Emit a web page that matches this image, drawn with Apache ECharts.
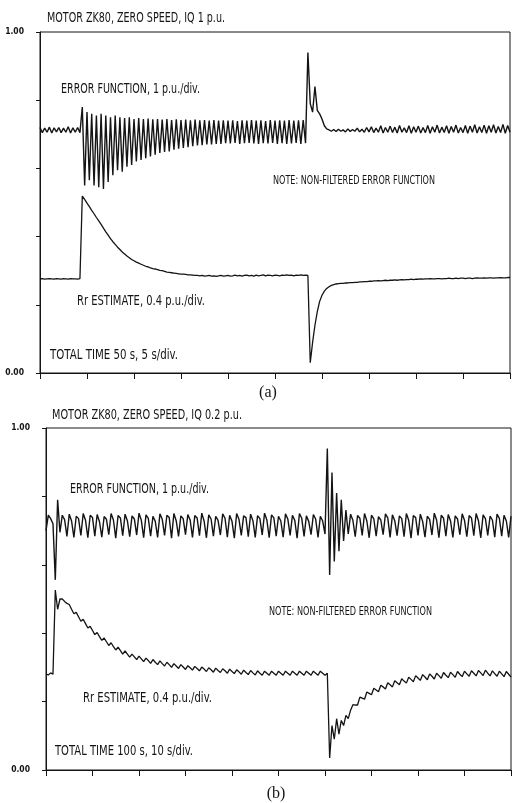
<!DOCTYPE html>
<html>
<head>
<meta charset="utf-8">
<script src="https://cdn.jsdelivr.net/npm/echarts@6/dist/echarts.min.js"></script>
<style>
  html, body { margin: 0; padding: 0; background: #fff; }
  #chart { width: 512px; height: 803px; }
</style>
</head>
<body>
<div id="chart"></div>
<script>
// (a) 50 s record, one sample every 0.25 s
const dtA = 0.25
const errA = [
  .72, .705, .718, .706, .721, .704, .719, .707, .72, .705,
  .718, .706, .722, .704, .719, .706, .72, .705, .78, .55,
  .765, .565, .76, .55, .755, .545, .76, .54, .755, .56,
  .75, .58, .755, .595, .75, .59, .748, .605, .75, .61,
  .745, .62, .748, .625, .745, .63, .746, .635, .744, .64,
  .745, .645, .743, .648, .745, .65, .742, .655, .744, .658,
  .742, .66, .743, .662, .741, .665, .743, .667, .741, .668,
  .742, .67, .74, .67, .742, .672, .74, .672, .741, .674,
  .74, .673, .741, .675, .739, .672, .741, .674, .74, .675,
  .742, .673, .74, .672, .741, .674, .739, .673, .742, .675,
  .74, .672, .741, .674, .74, .672, .742, .673, .74, .675,
  .741, .672, .742, .674, .94, .79, .765, .84, .77, .76,
  .745, .725, .716, .713, .709, .714, .708, .715, .709, .713,
  .707, .716, .708, .714, .709, .718, .707, .715, .706, .72,
  .707, .722, .705, .718, .706, .725, .704, .72, .706, .724,
  .705, .721, .704, .726, .706, .719, .705, .725, .703, .722,
  .706, .724, .704, .72, .705, .726, .703, .722, .706, .727,
  .704, .721, .705, .725, .703, .723, .706, .727, .704, .72,
  .705, .726, .703, .724, .706, .728, .704, .722, .705, .727,
  .703, .725, .706, .728, .704, .723, .705, .729, .703, .726,
  .706
]
const rrA = [
  .276, .277, .275, .276, .277, .276, .275, .277, .276, .275,
  .277, .276, .275, .277, .276, .276, .275, .277, .519, .509,
  .498, .488, .477, .467, .456, .446, .436, .425, .414, .404,
  .394, .385, .377, .369, .362, .355, .349, .343, .338, .333,
  .329, .325, .322, .319, .316, .313, .311, .308, .306, .305,
  .303, .301, .3, .298, .296, .295, .294, .293, .292, .291,
  .29, .29, .289, .288, .288, .287, .286, .286, .285, .286,
  .284, .285, .286, .284, .285, .283, .285, .286, .284, .285,
  .286, .284, .285, .287, .285, .286, .284, .286, .287, .285,
  .286, .284, .287, .285, .286, .288, .285, .287, .286, .285,
  .287, .286, .285, .287, .286, .288, .286, .287, .285, .287,
  .286, .288, .286, .287, .286, .03, .09, .14, .18, .21,
  .228, .24, .248, .253, .257, .259, .261, .262, .263, .263,
  .264, .264, .265, .265, .266, .266, .267, .267, .268, .268,
  .269, .269, .27, .27, .271, .27, .271, .272, .271, .272,
  .272, .273, .272, .273, .274, .273, .274, .274, .275, .274,
  .275, .275, .276, .275, .276, .276, .277, .276, .276, .277,
  .277, .276, .277, .277, .278, .277, .277, .278, .277, .278,
  .278, .277, .278, .278, .277, .278, .279, .278, .278, .279,
  .278, .279, .279, .278, .279, .279, .28, .279, .279, .28,
  .28
]

// (b) 100 s record, one sample every 0.5 s
const dtB = 0.5
const errB = [
  .70, .745, .735, .72, .556, .79, .695, .745, .732, .683,
  .748, .728, .68, .742, .735, .686, .75, .73, .679, .745,
  .738, .684, .747, .726, .681, .741, .733, .688, .75, .731,
  .678, .744, .737, .685, .748, .729, .682, .743, .734, .687,
  .751, .73, .679, .746, .736, .684, .742, .727, .68, .749,
  .733, .686, .745, .738, .678, .75, .729, .683, .743, .735,
  .688, .747, .731, .68, .744, .737, .685, .751, .728, .679,
  .746, .734, .684, .742, .73, .687, .749, .736, .681, .745,
  .727, .678, .75, .733, .686, .743, .738, .682, .748, .729,
  .68, .744, .735, .687, .751, .731, .679, .746, .737, .684,
  .742, .728, .681, .749, .734, .686, .745, .73, .678, .75,
  .736, .683, .743, .727, .688, .747, .733, .68, .742, .728,
  .69, .94, .57, .87, .61, .81, .64, .79, .67, .76,
  .69, .748, .73, .682, .744, .736, .686, .75, .728, .679,
  .745, .734, .684, .741, .731, .688, .749, .737, .68, .746,
  .729, .685, .743, .735, .682, .75, .73, .678, .744, .738,
  .686, .748, .727, .681, .742, .733, .687, .751, .731, .679,
  .745, .736, .684, .747, .728, .68, .743, .734, .688, .749,
  .73, .682, .744, .737, .685, .75, .729, .679, .746, .735,
  .686, .742, .731, .681, .748, .736, .684, .745, .728, .68,
  .742
]
const rrB = [
  .28, .278, .284, .28, .526, .47, .5, .5, .493, .487,
  .484, .47, .457, .461, .448, .435, .441, .428, .415, .42,
  .408, .396, .402, .39, .379, .386, .375, .364, .372, .361,
  .351, .359, .349, .339, .348, .339, .33, .339, .331, .323,
  .333, .325, .317, .327, .32, .312, .323, .315, .308, .319,
  .311, .304, .315, .308, .3, .311, .304, .297, .308, .301,
  .294, .305, .299, .292, .303, .297, .29, .301, .295, .288,
  .299, .293, .286, .298, .291, .285, .296, .29, .283, .295,
  .288, .282, .293, .287, .28, .292, .285, .279, .291, .284,
  .278, .29, .283, .277, .289, .283, .277, .289, .283, .277,
  .289, .283, .277, .289, .283, .277, .289, .283, .277, .289,
  .283, .277, .289, .283, .277, .289, .283, .277, .289, .283,
  .277, .283, .035, .13, .09, .15, .105, .145, .13, .16,
  .15, .175, .191, .19, .19, .213, .21, .207, .228, .224,
  .22, .239, .234, .229, .248, .243, .237, .255, .249, .243,
  .261, .255, .249, .267, .26, .254, .271, .265, .258, .276,
  .269, .262, .279, .272, .264, .281, .274, .266, .283, .276,
  .268, .285, .277, .27, .286, .279, .271, .288, .28, .273,
  .289, .281, .274, .29, .283, .275, .291, .284, .276, .292,
  .283, .275, .29, .282, .274, .289, .281, .273, .288, .28,
  .272
]

const timeA = errA.map((_, i) => String(i * dtA))
const timeB = errB.map((_, i) => String(i * dtB))

const ink = '#141414'
const textFont = '"DejaVu Sans"'

// annotation layout: left x, middle y, target width, font size
const notes = [
  { text: 'MOTOR ZK80, ZERO SPEED, IQ 1 p.u.', x: 47, y: 18, w: 178, size: 13.5 },
  { text: 'ERROR FUNCTION, 1 p.u./div.', x: 61, y: 89, w: 139, size: 13.5 },
  { text: 'NOTE: NON-FILTERED ERROR FUNCTION', x: 273, y: 180.5, w: 162, size: 12 },
  { text: 'Rr ESTIMATE, 0.4 p.u./div.', x: 77, y: 301, w: 128, size: 13.5 },
  { text: 'TOTAL TIME 50 s, 5 s/div.', x: 50, y: 355, w: 128, size: 13.5 },
  { text: 'MOTOR ZK80, ZERO SPEED, IQ 0.2 p.u.', x: 52, y: 415.5, w: 190, size: 13.5 },
  { text: 'ERROR FUNCTION, 1 p.u./div.', x: 70, y: 489, w: 139, size: 13.5 },
  { text: 'NOTE: NON-FILTERED ERROR FUNCTION', x: 269, y: 612, w: 163, size: 12 },
  { text: 'Rr ESTIMATE, 0.4 p.u./div.', x: 83, y: 698.5, w: 129, size: 13.5 },
  { text: 'TOTAL TIME 100 s, 10 s/div.', x: 55, y: 751, w: 138, size: 13.5 }
]

const ctx = document.createElement('canvas').getContext('2d')
function fitScale(n) {
  ctx.font = n.size + 'px ' + textFont
  return n.w / ctx.measureText(n.text).width
}

const graphics = notes.map(n => ({
  type: 'text',
  x: n.x,
  y: n.y,
  scaleX: fitScale(n),
  style: {
    text: n.text,
    font: n.size + 'px ' + textFont,
    fill: ink,
    textAlign: 'left',
    textVerticalAlign: 'middle',
    align: 'left',
    verticalAlign: 'middle'
  }
}))
graphics.push(
  { type: 'text', x: 268, y: 393, style: { text: '(a)', font: '16px "Liberation Serif"', fill: ink, textAlign: 'center', textVerticalAlign: 'middle', align: 'center', verticalAlign: 'middle' } },
  { type: 'text', x: 276, y: 794, style: { text: '(b)', font: '16px "Liberation Serif"', fill: ink, textAlign: 'center', textVerticalAlign: 'middle', align: 'center', verticalAlign: 'middle' } }
)

function xAx(grid, cats) {
  return {
    gridIndex: grid,
    type: 'category',
    data: cats,
    boundaryGap: false,
    axisLine: { lineStyle: { color: ink, width: 1 } },
    axisTick: { interval: 19, length: 6, lineStyle: { color: ink } },
    axisLabel: { show: false },
    splitLine: { show: false }
  }
}
function yAx(grid) {
  return {
    gridIndex: grid,
    type: 'value',
    min: 0,
    max: 1,
    interval: 0.2,
    axisLine: { show: true, lineStyle: { color: ink, width: 1 } },
    axisTick: { show: true, length: 4, lineStyle: { color: ink } },
    axisLabel: {
      margin: 16,
      fontSize: 8.5,
      fontWeight: 'bold',
      fontFamily: 'DejaVu Sans Condensed, DejaVu Sans',
      color: ink,
      formatter: v => (v === 0 ? '0.00' : v === 1 ? '1.00' : '')
    },
    splitLine: { show: false }
  }
}
function trace(ax, data, w) {
  return {
    type: 'line',
    xAxisIndex: ax,
    yAxisIndex: ax,
    data: data,
    showSymbol: false,
    lineStyle: { color: ink, width: w },
    silent: true
  }
}

const chart = echarts.init(document.getElementById('chart'))
chart.setOption({
  backgroundColor: '#fff',
  animation: false,
  grid: [
    { left: 40, top: 32, width: 470, height: 341, show: true, borderColor: ink, borderWidth: 1 },
    { left: 46, top: 428, width: 465, height: 342, show: true, borderColor: ink, borderWidth: 1 }
  ],
  xAxis: [xAx(0, timeA), xAx(1, timeB)],
  yAxis: [yAx(0), yAx(1)],
  series: [
    trace(0, errA, 1.4),
    trace(0, rrA, 1.3),
    trace(1, errB, 1.4),
    trace(1, rrB, 1.3)
  ],
  graphic: graphics
})

window.addEventListener('resize', () => chart.resize())
</script>
</body>
</html>
